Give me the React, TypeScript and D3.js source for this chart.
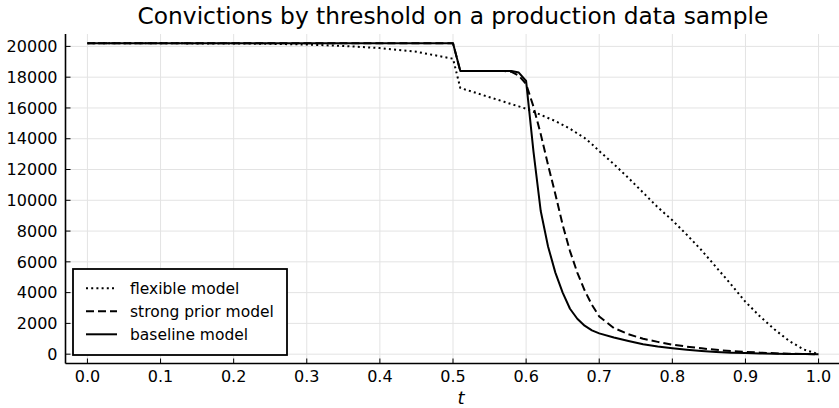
import * as d3 from "d3";
import React, { useEffect, useRef } from "react";

const W = 839;
const H = 408;

// threshold grid shared by all three curves
const T = [
  0, 0.1, 0.2, 0.25, 0.3, 0.35, 0.4, 0.45, 0.5,
  0.51, 0.52, 0.53, 0.54, 0.55, 0.56, 0.57, 0.58, 0.59, 0.6,
  0.61, 0.62, 0.63, 0.64, 0.65, 0.66, 0.67, 0.68, 0.69, 0.7,
  0.72, 0.74, 0.76, 0.78, 0.8, 0.82, 0.84, 0.86, 0.88, 0.9, 0.92, 0.94, 0.96, 0.98, 1.0,
];

const FLEXIBLE = [
  20200, 20200, 20190, 20170, 20120, 20030, 19890, 19650, 19200,
  17300, 17150, 17000, 16850, 16700, 16550, 16400, 16250, 16100, 15950,
  15750, 15550, 15350, 15150, 14900, 14650, 14350, 14050, 13650, 13200,
  12350, 11450, 10500, 9550, 8700, 7750, 6750, 5650, 4550, 3400, 2450, 1600, 850, 300, 0,
];

const STRONG_PRIOR = [
  20200, 20200, 20200, 20200, 20200, 20200, 20200, 20200, 20200,
  18400, 18400, 18400, 18400, 18400, 18400, 18400, 18350, 18100, 17550,
  16100, 14300, 12300, 10400, 8400, 6700, 5300, 4150, 3200, 2450,
  1700, 1300, 1000, 800, 620, 490, 380, 280, 200, 150, 100, 60, 30, 12, 0,
];

const BASELINE = [
  20200, 20200, 20200, 20200, 20200, 20200, 20200, 20200, 20200,
  18400, 18400, 18400, 18400, 18400, 18400, 18400, 18400, 18300, 17750,
  13200, 9300, 7000, 5300, 4000, 2950, 2300, 1850, 1550, 1350,
  1080, 860, 650, 500, 380, 280, 200, 140, 100, 70, 45, 25, 12, 5, 0,
];

const SERIES_NAMES = ["flexible model", "strong prior model", "baseline model"];
const SERIES_DASH = ["2,3.2", "8,4", null];

const X_TICKS = [0, 0.1, 0.2, 0.3, 0.4, 0.5, 0.6, 0.7, 0.8, 0.9, 1.0];
const Y_TICKS = [0, 2000, 4000, 6000, 8000, 10000, 12000, 14000, 16000, 18000, 20000];

const TITLE = "Convictions by threshold on a production data sample";
const FONT = "DejaVu Sans";

export default function App() {
  const svgRef = useRef<SVGSVGElement | null>(null);

  useEffect(() => {
    document.body.style.margin = "0";
    const svg = d3.select(svgRef.current);
    svg.selectAll("*").remove();

    const x = d3.scaleLinear().domain([-0.03, 1.03]).range([65.5, 840.5]);
    const y = d3.scaleLinear().domain([-606, 20806]).range([363.5, 34]);
    const [x0] = x.range();
    const [yb, yt] = y.range();

    svg.append("rect").attr("width", W).attr("height", H).attr("fill", "white");

    // grid
    const grid = svg.append("g").attr("stroke", "#e3e3e3").attr("stroke-width", 1);
    grid.selectAll("line.gx")
      .data(X_TICKS)
      .join("line")
      .attr("x1", d => x(d)).attr("x2", d => x(d))
      .attr("y1", yt).attr("y2", yb);
    grid.selectAll("line.gy")
      .data(Y_TICKS)
      .join("line")
      .attr("x1", x0).attr("x2", W)
      .attr("y1", d => y(d)).attr("y2", d => y(d));

    // series
    const seriesData = [FLEXIBLE, STRONG_PRIOR, BASELINE];
    const line = d3.line<number>()
      .x((_, i) => x(T[i]))
      .y(d => y(d));

    svg.append("g")
      .selectAll("path")
      .data(seriesData)
      .join("path")
      .attr("d", d => line(d))
      .attr("fill", "none")
      .attr("stroke", "black")
      .attr("stroke-width", 2)
      .attr("stroke-linejoin", "round")
      .attr("stroke-dasharray", (_, i) => SERIES_DASH[i]);

    // axes (Plots.jl style: inward ticks, only left/bottom spine)
    const ax = svg.append("g").attr("stroke", "black");
    ax.append("line").attr("x1", x0).attr("x2", W).attr("y1", yb).attr("y2", yb).attr("stroke-width", 1.6);
    ax.append("line").attr("x1", x0).attr("x2", x0).attr("y1", yt).attr("y2", yb).attr("stroke-width", 1.6);
    ax.selectAll("line.tx")
      .data(X_TICKS)
      .join("line")
      .attr("x1", d => x(d)).attr("x2", d => x(d))
      .attr("y1", yb).attr("y2", yb - 5)
      .attr("stroke-width", 1);
    ax.selectAll("line.ty")
      .data(Y_TICKS)
      .join("line")
      .attr("x1", x0).attr("x2", x0 + 5)
      .attr("y1", d => y(d)).attr("y2", d => y(d))
      .attr("stroke-width", 1);

    const txt = svg.append("g").attr("font-family", FONT).attr("fill", "black");
    txt.selectAll("text.xl")
      .data(X_TICKS)
      .join("text")
      .attr("x", d => x(d))
      .attr("y", 382)
      .attr("text-anchor", "middle")
      .attr("font-size", 16)
      .text(d => d3.format(".1f")(d));
    txt.selectAll("text.yl")
      .data(Y_TICKS)
      .join("text")
      .attr("x", 57.5)
      .attr("y", d => y(d))
      .attr("dy", "0.36em")
      .attr("text-anchor", "end")
      .attr("font-size", 16)
      .text(d => String(d));

    txt.append("text")
      .attr("x", 453)
      .attr("y", 23.5)
      .attr("text-anchor", "middle")
      .attr("font-size", 23.3)
      .text(TITLE);

    txt.append("text")
      .attr("x", 461)
      .attr("y", 404)
      .attr("text-anchor", "middle")
      .attr("font-size", 18)
      .attr("font-style", "italic")
      .text("t");

    // legend
    const lg = svg.append("g");
    lg.append("rect")
      .attr("x", 73).attr("y", 269)
      .attr("width", 214).attr("height", 86)
      .attr("fill", "white")
      .attr("stroke", "black")
      .attr("stroke-width", 1.8);
    const rows = lg.selectAll("g.row")
      .data(SERIES_NAMES)
      .join("g")
      .attr("transform", (_, i) => `translate(0,${288.3 + i * 23})`);
    rows.append("line")
      .attr("x1", 86).attr("x2", 117)
      .attr("stroke", "black")
      .attr("stroke-width", 2)
      .attr("stroke-dasharray", (_, i) => SERIES_DASH[i]);
    rows.append("text")
      .attr("x", 130)
      .attr("y", 6)
      .attr("font-family", FONT)
      .attr("font-size", 15.5)
      .text(d => d);
  }, []);

  return <svg ref={svgRef} width={W} height={H} style={{ display: "block" }} />;
}
